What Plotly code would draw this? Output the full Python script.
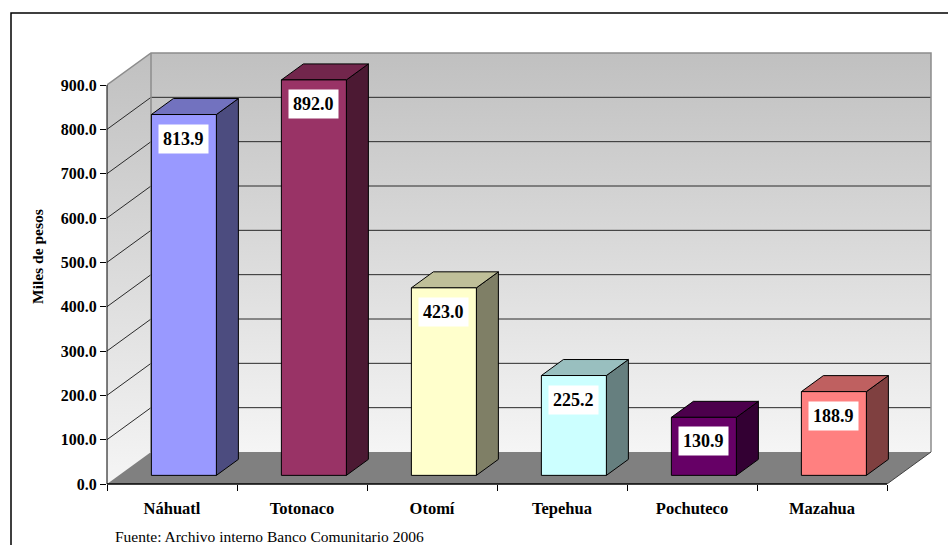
import plotly.graph_objects as go

# ---- data ----
categories = ["Náhuatl", "Totonaco", "Otomí", "Tepehua", "Pochuteco", "Mazahua"]
values = [813.9, 892.0, 423.0, 225.2, 130.9, 188.9]
front_colors = ["#9999FF", "#993366", "#FFFFCC", "#CCFFFF", "#660066", "#FF8080"]
y_ticks = [0, 100, 200, 300, 400, 500, 600, 700, 800, 900]
y_tick_labels = [f"{v:.1f}" for v in y_ticks]
y_title = "Miles de pesos"
source_text = "Fuente: Archivo interno Banco Comunitario 2006"

# ---- geometry of the pseudo-3D box ----
W, H = 948, 545
ML, MR, MT, MB = 107, 11, 40, 61
plot_w = W - ML - MR
plot_h = H - MT - MB
PX_PER_CAT = 130.0
PX_PER_UNIT = 399.0 / 900.0
X_MAX = plot_w / PX_PER_CAT
Y_MAX = plot_h / PX_PER_UNIT

DEPTH_DX = 44.0 / PX_PER_CAT      # horizontal shift of the back plane (category units)
DEPTH_DY = 32.0 / PX_PER_UNIT     # vertical shift of the back plane (value units)
WALL_TOP = y_ticks[-1]
N = len(categories)
BAR_W = 0.5
BAR_D0, BAR_D1 = 0.27, 0.77       # depth range occupied by the bars
FONT = "Liberation Serif, Times New Roman, serif"


def proj(u, v, d):
    return u + d * DEPTH_DX, v + d * DEPTH_DY


def shade(hex_color, k):
    h = hex_color.lstrip("#")
    r, g, b = (int(h[i:i + 2], 16) for i in (0, 2, 4))
    return "#%02X%02X%02X" % (int(r * k), int(g * k), int(b * k))


def poly(points, fill=None, line_color="black", line_width=1, gradient=None):
    xs = [p[0] for p in points] + [points[0][0]]
    ys = [p[1] for p in points] + [points[0][1]]
    kw = dict(x=xs, y=ys, mode="lines", fill="toself", hoverinfo="skip",
              showlegend=False,
              line=dict(color=line_color, width=line_width))
    if gradient is not None:
        kw["fillgradient"] = gradient
    else:
        kw["fillcolor"] = fill
    if line_width == 0:
        kw["line"] = dict(color="rgba(0,0,0,0)", width=0)
    return go.Scatter(**kw)


wall_grad = dict(type="vertical", colorscale=[[0, "#F5F5F5"], [1, "#C0C0C0"]])

fig = go.Figure()

# left side wall
fig.add_trace(poly([proj(0, 0, 0), proj(0, 0, 1), proj(0, WALL_TOP, 1), proj(0, WALL_TOP, 0)],
                   line_width=0, gradient=wall_grad))
# back wall
fig.add_trace(poly([proj(0, 0, 1), proj(N, 0, 1), proj(N, WALL_TOP, 1), proj(0, WALL_TOP, 1)],
                   line_width=0, gradient=wall_grad))
# floor
fig.add_trace(poly([proj(0, 0, 0), proj(N, 0, 0), proj(N, 0, 1), proj(0, 0, 1)],
                   fill="#808080", line_width=0))

# gridlines on side wall and back wall
gx, gy = [], []
for v in y_ticks[1:-1]:
    for p in (proj(0, v, 0), proj(0, v, 1), proj(N, v, 1)):
        gx.append(p[0]); gy.append(p[1])
    gx.append(None); gy.append(None)
fig.add_trace(go.Scatter(x=gx, y=gy, mode="lines", hoverinfo="skip", showlegend=False,
                         line=dict(color="#2A2A2A", width=1)))

# wall outlines
ox, oy = [], []
for seg in ([proj(0, WALL_TOP, 0), proj(0, WALL_TOP, 1), proj(N, WALL_TOP, 1), proj(N, 0, 1)],
            [proj(0, 0, 1), proj(0, WALL_TOP, 1)]):
    for p in seg:
        ox.append(p[0]); oy.append(p[1])
    ox.append(None); oy.append(None)
fig.add_trace(go.Scatter(x=ox, y=oy, mode="lines", hoverinfo="skip", showlegend=False,
                         line=dict(color="#8C8C8C", width=1.5)))
# floor right edge
rx = [proj(N, 0, 0)[0], proj(N, 0, 1)[0]]
ry = [proj(N, 0, 0)[1], proj(N, 0, 1)[1]]
fig.add_trace(go.Scatter(x=rx, y=ry, mode="lines", hoverinfo="skip", showlegend=False,
                         line=dict(color="#404040", width=1)))

# bars: front, side and top faces
annotations = []
for i, (cat, val, col) in enumerate(zip(categories, values, front_colors)):
    u0 = i + 0.5 - BAR_W / 2
    u1 = i + 0.5 + BAR_W / 2
    front = [proj(u0, 0, BAR_D0), proj(u1, 0, BAR_D0), proj(u1, val, BAR_D0), proj(u0, val, BAR_D0)]
    side = [proj(u1, 0, BAR_D0), proj(u1, 0, BAR_D1), proj(u1, val, BAR_D1), proj(u1, val, BAR_D0)]
    top = [proj(u0, val, BAR_D0), proj(u1, val, BAR_D0), proj(u1, val, BAR_D1), proj(u0, val, BAR_D1)]
    fig.add_trace(poly(side, fill=shade(col, 0.5)))
    fig.add_trace(poly(top, fill=shade(col, 0.75)))
    fig.add_trace(poly(front, fill=col))
    cx, cy = proj(i + 0.5, val, BAR_D0)
    annotations.append(dict(
        x=cx, y=cy, xref="x", yref="y", text=f"{val:.1f}", showarrow=False,
        xanchor="center", yanchor="top", yshift=-9, bgcolor="white", borderpad=4,
        font=dict(family=FONT, size=18, color="black", weight="bold")))

# axis title and source note
annotations.append(dict(
    x=(37 - ML) / plot_w, y=(H - MB - 257) / plot_h, xref="paper", yref="paper",
    xanchor="center", yanchor="middle",
    text=y_title, textangle=-90, showarrow=False,
    font=dict(family=FONT, size=15.5, color="black", weight="bold")))
annotations.append(dict(
    x=(113 - ML) / plot_w, y=(H - MB - 536) / plot_h, xref="paper", yref="paper",
    xanchor="left", yanchor="middle", text=source_text, showarrow=False,
    font=dict(family=FONT, size=15.5, color="black")))

shapes = [
    # front value axis line
    dict(type="line", xref="paper", yref="y", x0=0, x1=0, y0=0, y1=WALL_TOP,
         line=dict(color="black", width=1)),
    # front category axis line
    dict(type="line", xref="x", yref="paper", x0=0, x1=N, y0=0, y1=0,
         line=dict(color="black", width=1.5)),
    # outer chart frame
    dict(type="rect", xref="paper", yref="paper",
         x0=(11 - ML) / plot_w, x1=(W + 20 - ML) / plot_w,
         y0=(H - MB - (H + 20)) / plot_h, y1=(H - MB - 13) / plot_h,
         line=dict(color="black", width=1.5), fillcolor="rgba(0,0,0,0)"),
]

fig.update_layout(
    width=W, height=H,
    margin=dict(l=ML, r=MR, t=MT, b=MB, pad=0),
    paper_bgcolor="white", plot_bgcolor="white",
    showlegend=False,
    annotations=annotations,
    shapes=shapes,
    xaxis=dict(range=[0, X_MAX], showgrid=False, zeroline=False, showline=False,
               tickvals=[i + 0.5 for i in range(N)], ticktext=categories, ticks="",
               ticklabelstandoff=12,
               tickfont=dict(family=FONT, size=16.5, color="black", weight="bold"),
               minor=dict(tickvals=list(range(N + 1)), ticks="outside", ticklen=6,
                          tickcolor="black", tickwidth=1, showgrid=False),
               fixedrange=True),
    yaxis=dict(range=[0, Y_MAX], showgrid=False, zeroline=False, showline=False,
               tickvals=y_ticks, ticktext=y_tick_labels, ticks="outside", ticklen=6,
               tickcolor="black", tickwidth=1,
               tickfont=dict(family=FONT, size=16, color="black", weight="bold"),
               fixedrange=True),
)

fig.write_html("out.html")
